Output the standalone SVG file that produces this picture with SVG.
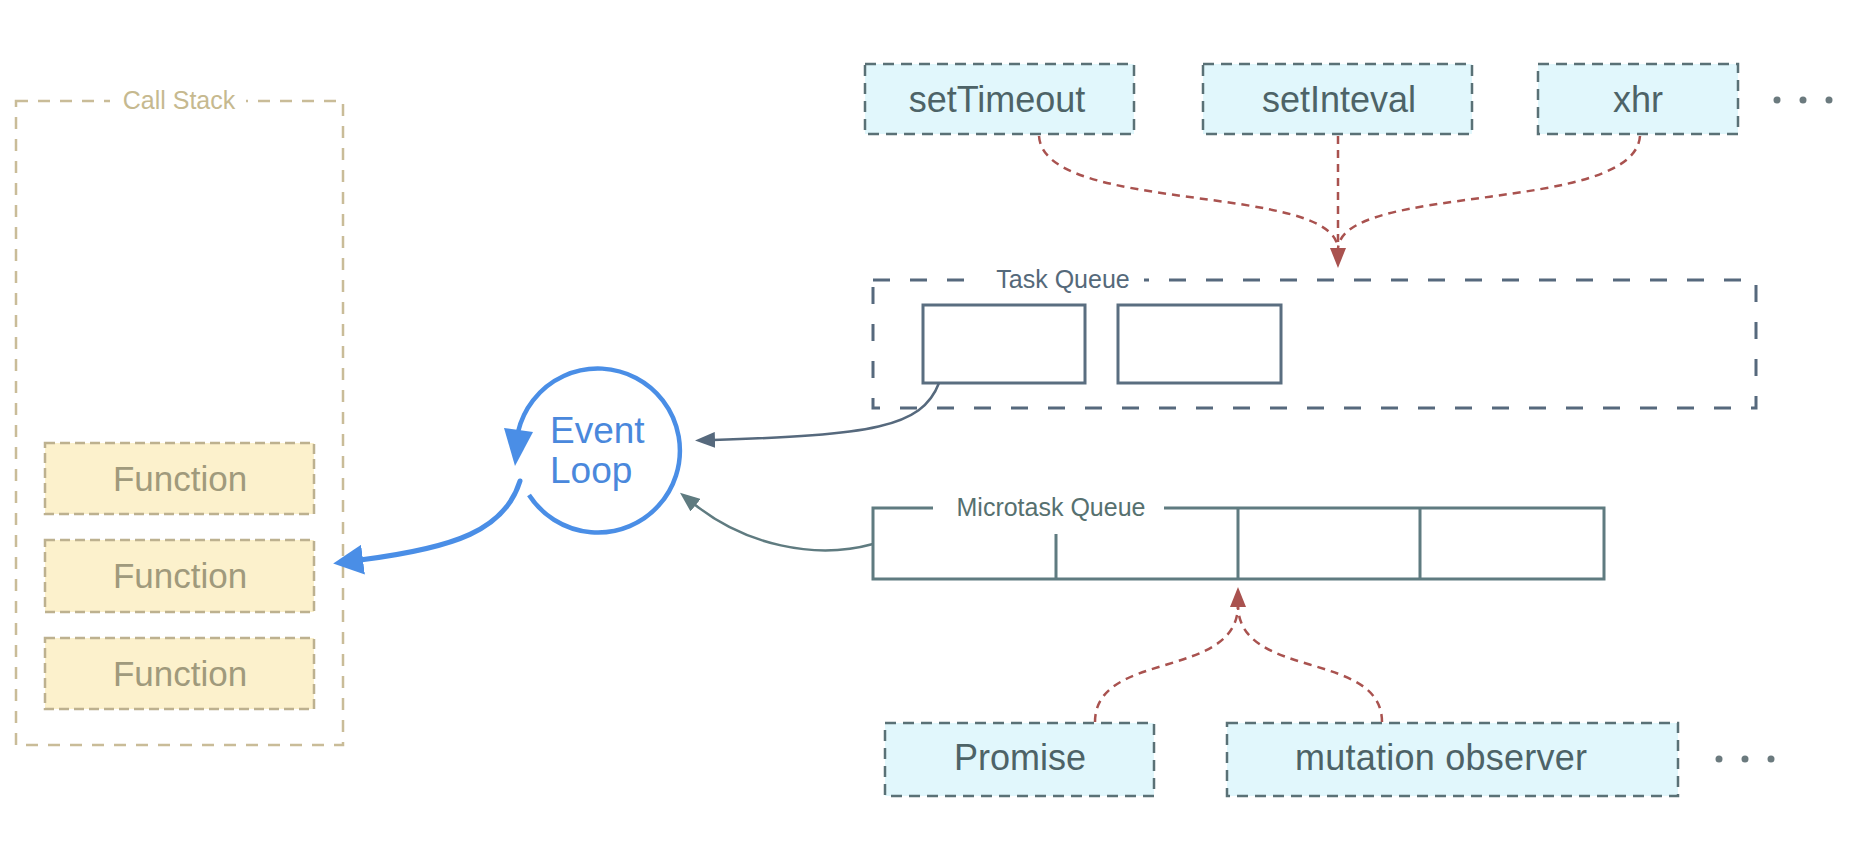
<svg xmlns="http://www.w3.org/2000/svg" width="1860" height="860" viewBox="0 0 1860 860">
<style>
  text { font-family: "Liberation Sans", Arial, Helvetica, sans-serif; }
  .cs { fill: none; stroke: #c9bc98; stroke-width: 2.5; stroke-dasharray: 12 10; }
  .cslabel { fill: #c6b98f; font-size: 25px; text-anchor: middle; }
  .fn rect { fill: #fcf1cc; stroke: #bdb18f; stroke-width: 2.5; stroke-dasharray: 10 5; }
  .fn text { fill: #a09a7c; font-size: 35px; text-anchor: middle; }
  .src rect { fill: #e1f7fc; stroke: #5a7176; stroke-width: 2.5; stroke-dasharray: 11 7; }
  .src text { fill: #4d6367; font-size: 36px; text-anchor: middle; }
  .dot { fill: #6b7a7e; }
  .tq { fill: none; stroke: #56697d; stroke-width: 3; stroke-dasharray: 17 20; }
  .slot { fill: #ffffff; stroke: #5a6e80; stroke-width: 3; }
  .qlabel { font-size: 25px; text-anchor: middle; }
  .mq { fill: none; stroke: #5f7b80; stroke-width: 3; }
  .red { fill: none; stroke: #a9524f; stroke-width: 2.5; stroke-dasharray: 8 6; }
  .slate { fill: none; stroke: #56697d; stroke-width: 2.5; }
  .teal { fill: none; stroke: #5f7b80; stroke-width: 2.5; }
  .blue { fill: none; stroke: #4a8ee6; stroke-width: 5; stroke-linecap: round; }
</style>
<defs>
  <marker id="redHead" markerUnits="userSpaceOnUse" viewBox="0 0 20 16" refX="2" refY="8" markerWidth="20" markerHeight="16" orient="auto">
    <path d="M0,0 L20,8 L0,16 z" fill="#a9524f"/>
  </marker>
  <marker id="slateHead" markerUnits="userSpaceOnUse" viewBox="0 0 20 16" refX="2" refY="8" markerWidth="20" markerHeight="16" orient="auto">
    <path d="M0,0 L20,8 L0,16 z" fill="#56697d"/>
  </marker>
  <marker id="tealHead" markerUnits="userSpaceOnUse" viewBox="0 0 20 16" refX="2" refY="8" markerWidth="20" markerHeight="16" orient="auto">
    <path d="M0,0 L20,8 L0,16 z" fill="#5f7b80"/>
  </marker>
  <marker id="blueHead" markerUnits="userSpaceOnUse" viewBox="0 0 30 30" refX="3" refY="15" markerWidth="30" markerHeight="30" orient="auto">
    <path d="M0,0 L30,15 L0,30 z" fill="#4a8ee6"/>
  </marker>
</defs>
<rect x="0" y="0" width="1860" height="860" fill="#ffffff"/>

<g id="call-stack">
  <rect class="cs" x="16" y="101" width="327" height="644"/>
  <rect x="110" y="92" width="136" height="20" fill="#ffffff"/>
  <text class="cslabel" x="179" y="109">Call Stack</text>
</g>
<g id="function-1" class="fn">
  <rect x="45" y="443" width="269" height="71"/>
  <text x="180" y="491">Function</text>
</g>
<g id="function-2" class="fn">
  <rect x="45" y="540" width="269" height="72"/>
  <text x="180" y="588">Function</text>
</g>
<g id="function-3" class="fn">
  <rect x="45" y="638" width="269" height="71"/>
  <text x="180" y="686">Function</text>
</g>

<g id="event-loop">
  <circle cx="598" cy="450" r="80" fill="#ffffff"/>
  <path d="M529,495 A82,82 0 1 0 518,432" fill="none" stroke="#4a8ee6" stroke-width="4.5"/>
  <polygon points="504,428 533,432 515,466" fill="#4a8ee6"/>
  <text x="550" y="443" fill="#4a88dc" font-size="37">Event</text>
  <text x="550" y="483" fill="#4a88dc" font-size="37">Loop</text>
</g>

<g id="task-queue">
  <rect class="tq" x="873" y="280" width="883" height="128"/>
  <rect x="982" y="268" width="162" height="24" fill="#ffffff"/>
  <text class="qlabel" x="1063" y="288" fill="#55697a">Task Queue</text>
  <rect class="slot" x="923" y="305" width="162" height="78"/>
  <rect class="slot" x="1118" y="305" width="163" height="78"/>
</g>

<g id="microtask-queue">
  <path class="mq" d="M933,508 H873 V579 H1604 V508 H1164"/>
  <path class="mq" d="M1056,534 V579 M1238,508 V579 M1420,508 V579"/>
  <text class="qlabel" x="1051" y="516" fill="#56706f">Microtask Queue</text>
</g>

<g id="setTimeout" class="src">
  <rect x="865" y="64" width="269" height="70"/>
  <text x="997" y="112">setTimeout</text>
</g>
<g id="setInteval" class="src">
  <rect x="1203" y="64" width="269" height="70"/>
  <text x="1339" y="112">setInteval</text>
</g>
<g id="xhr" class="src">
  <rect x="1538" y="64" width="200" height="70"/>
  <text x="1638" y="112">xhr</text>
</g>
<g id="more-tasks">
  <circle class="dot" cx="1777" cy="100" r="3.5"/>
  <circle class="dot" cx="1803" cy="100" r="3.5"/>
  <circle class="dot" cx="1829" cy="100" r="3.5"/>
</g>
<g id="promise" class="src">
  <rect x="885" y="723" width="269" height="73"/>
  <text x="1020" y="770">Promise</text>
</g>
<g id="mutation-observer" class="src">
  <rect x="1227" y="723" width="451" height="73"/>
  <text x="1441" y="770" textLength="292" lengthAdjust="spacing">mutation observer</text>
</g>
<g id="more-microtasks">
  <circle class="dot" cx="1719" cy="759" r="3.5"/>
  <circle class="dot" cx="1745" cy="759" r="3.5"/>
  <circle class="dot" cx="1771" cy="759" r="3.5"/>
</g>

<g id="connectors">
  <path class="red" d="M1039,136 C1044,215 1338,182 1338,250"/>
  <path class="red" d="M1640,136 C1634,215 1338,182 1338,250"/>
  <path class="red" d="M1338,136 L1338,250" marker-end="url(#redHead)"/>
  <path class="red" d="M1095,722 C1095,650 1238,680 1238,605"/>
  <path class="red" d="M1382,722 C1382,650 1238,680 1238,605" marker-end="url(#redHead)"/>
  <path class="slate" d="M939,383 C922,428 870,435 713,440" marker-end="url(#slateHead)"/>
  <path class="teal" d="M873,544 C815,560 745,545 694,504" marker-end="url(#tealHead)"/>
  <path class="blue" d="M520,481 C505,530 455,548 360,560" marker-end="url(#blueHead)"/>
</g>
</svg>
